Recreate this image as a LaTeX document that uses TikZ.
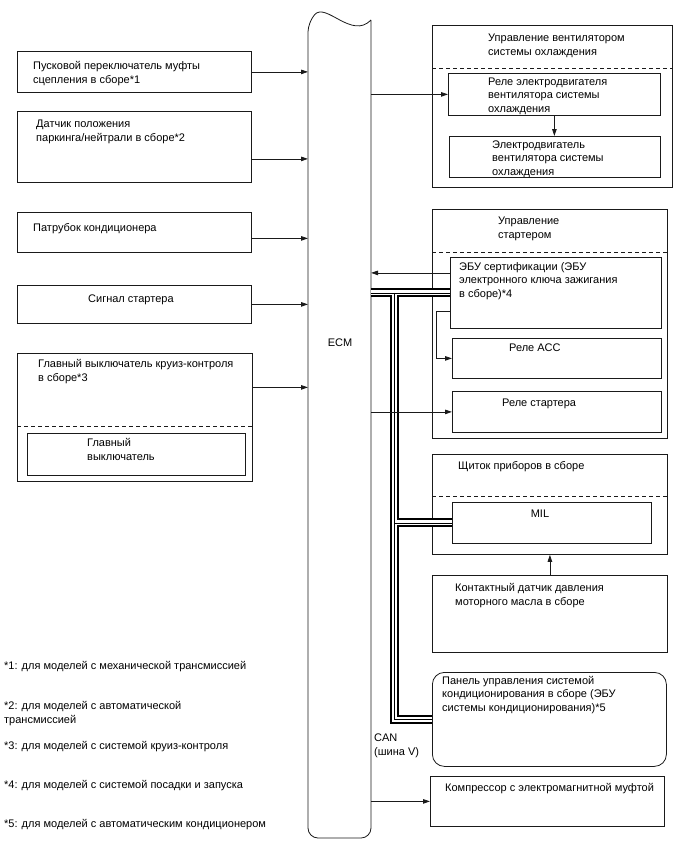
\documentclass[tikz,border=0pt]{standalone}
\usepackage{fontspec}
\setmainfont{Liberation Sans}
\usepackage{xcolor}
\definecolor{wiredark}{HTML}{1A1A1A}
\usetikzlibrary{positioning,arrows.meta}

\begin{document}
\begin{tikzpicture}[x=1pt,y=-1pt,
  every node/.style={font=\fontsize{11}{13.5}\selectfont, inner sep=0pt},
  blk/.style={draw=wiredark, line width=0.8pt, anchor=north west},
  txt/.style={anchor=base west, align=left},
  arr/.style={draw=wiredark, line width=0.8pt, -{Triangle[length=7pt,width=4.5pt]}},
  sep/.style={draw=wiredark, line width=0.8pt, dash pattern=on 4pt off 3pt},
  canbus/.style={draw=black, line width=9pt,
    postaction={draw=white, line width=5pt},
    postaction={draw=black, line width=0.8pt}}]
  \useasboundingbox (0,0) rectangle (688,852);

  \draw[wiredark, line width=0.8pt, rounded corners=10pt] (371,20) -- (371,838) -- (308,838) -- (308,22)
    [sharp corners] .. controls (326,2) and (352,40) .. (371,20);
  \node[anchor=base] (ecm) at (340,346) {ECM};
  \coordinate (ecmL) at (308,0);
  \coordinate (ecmR) at (371,0);
  \coordinate (canx) at (394,0);

  \node[blk, minimum width=234, minimum height=41] (clutch) at (17,51) {};
  \node[txt] (clutchtxt) at (33,83) {Пусковой переключатель муфты\\сцепления в сборе*1};
  \node[blk, minimum width=234, minimum height=71] (pnp) at (17,111) {};
  \node[txt] (pnptxt) at (36,141) {Датчик положения\\паркинга/нейтрали в сборе*2};
  \node[blk, minimum width=234, minimum height=40] (acpipe) at (17,212) {};
  \node[txt] (acpipetxt) at (33,231) {Патрубок кондиционера};
  \node[blk, minimum width=234, minimum height=38] (stsig) at (17,285) {};
  \node[txt] (stsigtxt) at (88,302) {Сигнал стартера};
  \node[blk, minimum width=235, minimum height=128] (cruise) at (17,353) {};
  \node[txt] (cruisetxt) at (38,381) {Главный выключатель круиз-контроля\\в сборе*3};
  \draw[sep] ([yshift=-73pt]cruise.north west) -- ([yshift=-73pt]cruise.north east);
  \node[blk, minimum width=218, minimum height=42] (mainsw) at (27,433) {};
  \node[txt] (mainswtxt) at (87,460) {Главный\\выключатель};

  \node[blk, minimum width=240, minimum height=162] (fanctl) at (432,25) {};
  \node[txt] (fanctltxt) at (488,55) {Управление вентилятором\\системы охлаждения};
  \draw[sep] ([yshift=-43pt]fanctl.north west) -- ([yshift=-43pt]fanctl.north east);
  \node[blk, minimum width=212, minimum height=42] (fanrelay) at (448,73) {};
  \node[txt] (fanrelaytxt) at (488,112) {Реле электродвигателя\\вентилятора системы\\охлаждения};
  \node[blk, minimum width=211, minimum height=41] (fanmotor) at (449,136) {};
  \node[txt] (fanmotortxt) at (492,175) {Электродвигатель\\вентилятора системы\\охлаждения};

  \node[blk, minimum width=235, minimum height=229] (startctl) at (432,209) {};
  \node[txt] (startctltxt) at (498,238) {Управление\\стартером};
  \draw[sep] ([yshift=-43pt]startctl.north west) -- ([yshift=-43pt]startctl.north east);
  \node[blk, minimum width=211, minimum height=71] (ecu) at (450,257) {};
  \node[txt] (ecutxt) at (459,297) {ЭБУ сертификации (ЭБУ\\электронного ключа зажигания\\в сборе)*4};
  \node[blk, minimum width=209, minimum height=40] (acc) at (452,338) {};
  \node[txt] (acctxt) at (509,351) {Реле ACC};
  \node[blk, minimum width=209, minimum height=41] (strelay) at (452,391) {};
  \node[txt] (strelaytxt) at (502,406) {Реле стартера};

  \node[blk, minimum width=235, minimum height=100] (cluster) at (432,454) {};
  \node[txt] (clustertxt) at (458,469) {Щиток приборов в сборе};
  \draw[sep] ([yshift=-42pt]cluster.north west) -- ([yshift=-42pt]cluster.north east);
  \node[blk, minimum width=199, minimum height=41] (mil) at (452,502) {};
  \node[anchor=base] (miltxt) at (540,517) {MIL};
  \node[blk, minimum width=235, minimum height=77] (oil) at (432,575) {};
  \node[txt] (oiltxt) at (455,605) {Контактный датчик давления\\моторного масла в сборе};
  \node[blk, rounded corners=12pt, minimum width=234, minimum height=94] (acpanel) at (432,672) {};
  \node[txt] (acpaneltxt) at (442,711) {Панель управления системой\\кондиционирования в сборе (ЭБУ\\системы кондиционирования)*5};
  \node[blk, minimum width=234, minimum height=50] (comp) at (430,776) {};
  \node[txt] (comptxt) at (445,791) {Компрессор с электромагнитной муфтой};

  \draw[canbus] (ecu.west -| ecmR) -- (ecu.west)
    (canx |- ecu.west) |- (acpanel.west)
    (canx |- mil.west) -- (mil.west);
  \node[txt] (cantxt) at (374,755) {CAN\\(шина V)};

  \coordinate (pnpout) at ([yshift=-12pt]pnp.east);
  \coordinate (acpipeout) at ([yshift=-6pt]acpipe.east);
  \coordinate (cruiseout) at ([yshift=30pt]cruise.east);
  \draw[arr] (clutch.east) -- (clutch.east -| ecmL);
  \draw[arr] (pnpout) -- (pnpout -| ecmL);
  \draw[arr] (acpipeout) -- (acpipeout -| ecmL);
  \draw[arr] (stsig.east) -- (stsig.east -| ecmL);
  \draw[arr] (cruiseout) -- (cruiseout -| ecmL);

  \coordinate (ecuout) at ([yshift=20pt]ecu.west);
  \coordinate (ecuacc) at ([yshift=-18pt]ecu.west);
  \draw[arr] (fanrelay.west -| ecmR) -- (fanrelay.west);
  \draw[arr] (fanrelay.south) -- (fanrelay.south |- fanmotor.north);
  \draw[arr] (ecuout) -- (ecuout -| ecmR);
  \draw[arr] (ecuacc) -- ++(-14,0) |- (acc.west);
  \draw[arr] (strelay.west -| ecmR) -- (strelay.west);
  \draw[arr] (oil.north) -- (oil.north |- cluster.south);
  \draw[arr] (comp.west -| ecmR) -- (comp.west);

  \node[txt] (note1) at (4,669) {*1: для моделей с механической трансмиссией};
  \node[txt] (note2) at (4,723) {*2: для моделей с автоматической\\трансмиссией};
  \node[txt] (note3) at (4,749) {*3: для моделей с системой круиз-контроля};
  \node[txt] (note4) at (4,788) {*4: для моделей с системой посадки и запуска};
  \node[txt] (note5) at (4,827) {*5: для моделей с автоматическим кондиционером};
\end{tikzpicture}
\end{document}
